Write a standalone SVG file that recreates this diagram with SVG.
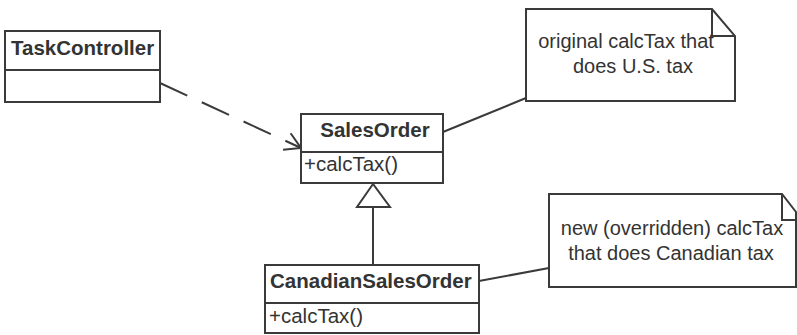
<svg xmlns="http://www.w3.org/2000/svg" width="797" height="335" viewBox="0 0 797 335">
  <style>
    .box { fill: #ffffff; stroke: #3a3a3a; stroke-width: 2; }
    .ln { fill: none; stroke: #3a3a3a; stroke-width: 2; }
    .cls { font-family: "Liberation Sans", Arial, sans-serif; font-size: 20.5px; font-weight: bold; fill: #333333; }
    .op { font-family: "Liberation Sans", Arial, sans-serif; font-size: 20.5px; fill: #333333; }
    .note { font-family: "Liberation Sans", Arial, sans-serif; font-size: 20px; fill: #333333; text-anchor: middle; }
  </style>
  <defs>
    <marker id="open" markerUnits="userSpaceOnUse" markerWidth="24" markerHeight="24" viewBox="-20 -12 24 24" refX="0" refY="0" orient="auto">
      <path d="M-15.6,-9 L0,0 L-15.6,9" fill="none" stroke="#3a3a3a" stroke-width="2"/>
    </marker>
  </defs>
  <rect width="797" height="335" fill="#ffffff"/>

  <g id="connectors">
    <line class="ln" x1="160" y1="83" x2="301" y2="148" stroke-dasharray="30 16" marker-end="url(#open)"/>
    <line class="ln" x1="373" y1="207" x2="373" y2="265"/>
    <polygon class="box" points="373,184 357,207 390,207"/>
    <line class="ln" x1="443" y1="132" x2="526" y2="98"/>
    <line class="ln" x1="479" y1="281" x2="549" y2="268"/>
  </g>

  <g id="TaskController">
    <rect class="box" x="5" y="31" width="155" height="71"/>
    <line class="ln" x1="5" y1="70" x2="160" y2="70"/>
    <text class="cls" x="11" y="55">TaskController</text>
  </g>

  <g id="SalesOrder">
    <rect class="box" x="301" y="114" width="142" height="69"/>
    <line class="ln" x1="301" y1="152" x2="443" y2="152"/>
    <text class="cls" x="375" y="137" text-anchor="middle">SalesOrder</text>
    <text class="op" x="304" y="171">+calcTax()</text>
  </g>

  <g id="CanadianSalesOrder">
    <rect class="box" x="265" y="265" width="214" height="68"/>
    <line class="ln" x1="265" y1="303" x2="479" y2="303"/>
    <text class="cls" x="270" y="288">CanadianSalesOrder</text>
    <text class="op" x="269" y="323">+calcTax()</text>
  </g>

  <g id="note-us">
    <path class="box" d="M526,9 L712,9 L735,36 L735,101 L526,101 Z"/>
    <path class="ln" d="M712,9 L712,36 L735,36"/>
    <text class="note" x="626" y="48">original calcTax that</text>
    <text class="note" x="633" y="73">does U.S. tax</text>
  </g>

  <g id="note-canadian">
    <path class="box" d="M549,194 L782,194 L796,212 L796,287 L549,287 Z"/>
    <path class="ln" d="M782,194 L782,220 L796,220"/>
    <text class="note" x="672" y="235">new (overridden) calcTax</text>
    <text class="note" x="671" y="260">that does Canadian tax</text>
  </g>
</svg>
